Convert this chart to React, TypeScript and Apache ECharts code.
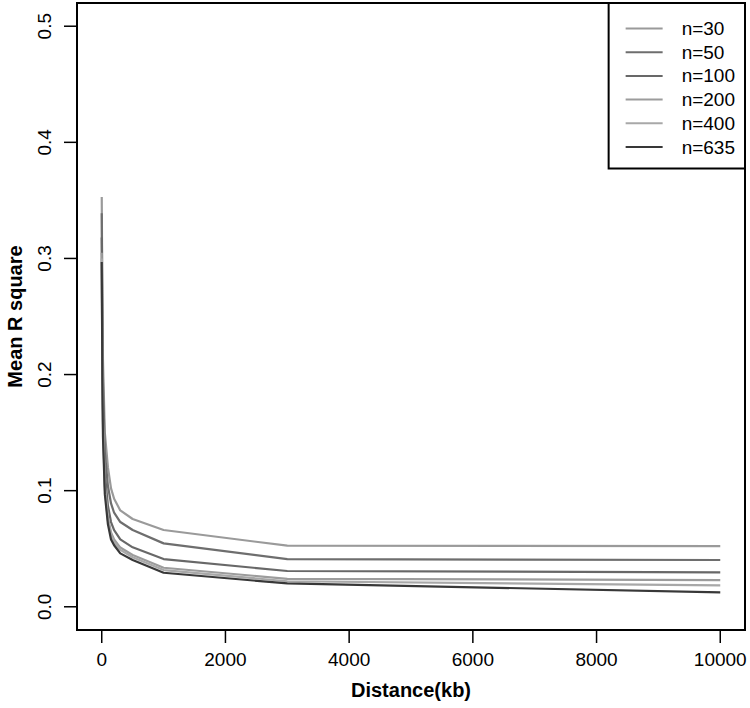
import React, { useEffect, useRef } from "react";
import * as echarts from "echarts";

const distances = [0, 10, 20, 50, 100, 150, 200, 300, 500, 1000, 3000, 10000];
const seriesNames = ["n=30", "n=50", "n=100", "n=200", "n=400", "n=635"];
const n30 = [0.353, 0.262, 0.212, 0.150, 0.120, 0.102, 0.093, 0.083, 0.0756, 0.0661, 0.0526, 0.0523];
const n50 = [0.339, 0.243, 0.193, 0.133, 0.104, 0.089, 0.081, 0.073, 0.0661, 0.0546, 0.0411, 0.0403];
const n100 = [0.318, 0.222, 0.172, 0.115, 0.087, 0.073, 0.066, 0.058, 0.0512, 0.0411, 0.0308, 0.0297];
const n200 = [0.305, 0.208, 0.160, 0.105, 0.077, 0.064, 0.058, 0.051, 0.0446, 0.0336, 0.0241, 0.0230];
const n400 = [0.300, 0.203, 0.155, 0.102, 0.074, 0.062, 0.056, 0.049, 0.0426, 0.0316, 0.0220, 0.0184];
const n635 = [0.297, 0.196, 0.146, 0.097, 0.071, 0.058, 0.053, 0.046, 0.0403, 0.0293, 0.0201, 0.0124];
const seriesValues = [n30, n50, n100, n200, n400, n635];
const seriesColors = ["#9a9a9a", "#6e6e6e", "#686868", "#9c9c9c", "#a8a8a8", "#383838"];
const xTicks = [0, 2000, 4000, 6000, 8000, 10000];
const yTicks = [0, 0.1, 0.2, 0.3, 0.4, 0.5];

const FONT = "'Liberation Sans', Arial, Helvetica, sans-serif";
const X_RANGE = [-400, 10400];
const Y_RANGE = [-0.02, 0.52];

export default function App() {
  const ref = useRef<HTMLDivElement>(null);
  useEffect(() => {
    if (!ref.current) return;
    const chart = echarts.init(ref.current, null, { renderer: "svg" });
    chart.setOption({
      animation: false,
      backgroundColor: "#ffffff",
      textStyle: { fontFamily: FONT },
      grid: {
        left: 77,
        right: 5,
        top: 3,
        bottom: 78,
        outerBoundsMode: "none",
        containLabel: false,
        show: true,
        borderColor: "#000",
        borderWidth: 2,
        backgroundColor: "transparent",
      },
      legend: {
        orient: "vertical",
        right: 5,
        top: 3,
        padding: [16, 10, 12, 17],
        itemGap: 4.7,
        itemWidth: 37,
        itemHeight: 2,
        icon: "rect",
        borderColor: "#000",
        borderWidth: 2,
        backgroundColor: "#fff",
        textStyle: {
          fontFamily: FONT,
          fontSize: 19,
          lineHeight: 19,
          color: "#000",
          padding: [0, 0, 0, 14],
        },
        data: seriesNames,
      },
      xAxis: {
        type: "value",
        position: "bottom",
        min: X_RANGE[0],
        max: X_RANGE[1],
        name: "Distance(kb)",
        nameLocation: "middle",
        nameGap: 50,
        nameTextStyle: { fontFamily: FONT, fontSize: 20, fontWeight: "bold", color: "#000" },
        axisLine: { show: false, onZero: false },
        splitLine: { show: false },
        axisTick: { show: false },
        axisLabel: {
          customValues: xTicks,
          fontFamily: FONT,
          fontSize: 19,
          color: "#000",
          margin: 20,
          formatter: (v: number) => String(v),
        },
      },
      yAxis: {
        type: "value",
        position: "left",
        min: Y_RANGE[0],
        max: Y_RANGE[1],
        name: "Mean R square",
        nameLocation: "middle",
        nameGap: 52,
        nameRotate: 90,
        nameTextStyle: { fontFamily: FONT, fontSize: 20, fontWeight: "bold", color: "#000" },
        axisLine: { show: false, onZero: false },
        splitLine: { show: false },
        axisTick: { show: false },
        axisLabel: {
          customValues: yTicks,
          rotate: 90,
          fontFamily: FONT,
          fontSize: 19,
          color: "#000",
          margin: 23,
          formatter: (v: number) => v.toFixed(1),
        },
      },
      series: [
        ...seriesNames.map((name, i) => ({
          name,
          type: "line",
          data: distances.map((d, j) => [d, seriesValues[i][j]]),
          showSymbol: false,
          symbol: "none",
          smooth: false,
          color: seriesColors[i],
          lineStyle: { color: seriesColors[i], width: 2.2 },
          z: 2 + i,
        })),
        {
          name: "xticks",
          type: "custom",
          silent: true,
          clip: false,
          data: xTicks.map((v) => [v]),
          encode: { x: 0 },
          renderItem: (params: any, api: any) => {
            const p = api.coord([api.value(0), Y_RANGE[0]]);
            return {
              type: "line",
              shape: { x1: p[0], y1: p[1] + 1, x2: p[0], y2: p[1] + 13 },
              style: { stroke: "#000", lineWidth: 1.5 },
            };
          },
          z: 10,
        },
        {
          name: "yticks",
          type: "custom",
          silent: true,
          clip: false,
          data: yTicks.map((v) => [v]),
          encode: { y: 0 },
          renderItem: (params: any, api: any) => {
            const p = api.coord([X_RANGE[0], api.value(0)]);
            return {
              type: "line",
              shape: { x1: p[0] - 1, y1: p[1], x2: p[0] - 13, y2: p[1] },
              style: { stroke: "#000", lineWidth: 1.5 },
            };
          },
          z: 10,
        },
      ],
    });
    return () => chart.dispose();
  }, []);
  return (
    <div
      ref={ref}
      style={{ position: "fixed", left: 0, top: 0, width: 750, height: 708, background: "#fff" }}
    />
  );
}
